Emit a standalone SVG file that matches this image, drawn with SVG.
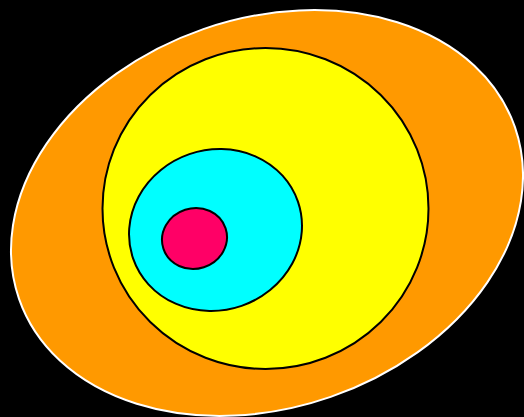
<svg xmlns="http://www.w3.org/2000/svg" width="524" height="417" viewBox="0 0 524 417">
<style>
.inner{stroke:#000;stroke-width:2}
</style>
<rect width="524" height="417" fill="#000"/>
<ellipse cx="267" cy="213" rx="262.4" ry="194.6" transform="rotate(-19.1 267 213)" fill="#ff9900" stroke="#fff" stroke-width="2"/>
<ellipse class="inner" cx="265.5" cy="208.5" rx="163" ry="160.5" fill="#ffff00"/>
<ellipse class="inner" cx="215.5" cy="230" rx="87.2" ry="80.2" transform="rotate(-19 215.5 230)" fill="#00ffff"/>
<ellipse class="inner" cx="194.5" cy="238.5" rx="32.7" ry="30.25" transform="rotate(-18 194.5 238.5)" fill="#ff0066"/>
</svg>
